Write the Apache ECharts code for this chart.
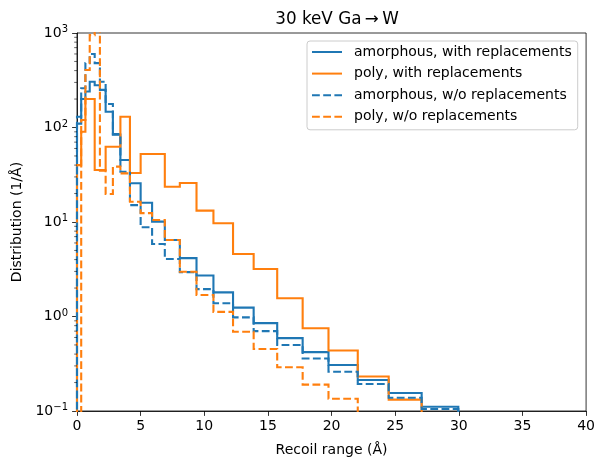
<!DOCTYPE html>
<html><head><meta charset="utf-8">
<script src="https://cdn.jsdelivr.net/npm/echarts@6/dist/echarts.min.js"></script>
<style>html,body{margin:0;padding:0;background:#fff}#c{width:598px;height:462px}</style>
</head><body><div id="c"></div>
<script>
// Bin edges (Å)
const binEdges = [0, 0.33, 0.66, 1.0, 1.39, 1.8, 2.25, 2.82, 3.41, 4.16, 5.0, 5.9, 6.9, 8.08, 9.39, 10.72, 12.26, 13.88, 15.73, 17.73, 19.76, 22.06, 24.49, 27.08, 29.96];
// Distribution values per bin (1/Å); 0 = empty bin
const amorphousWith = [110, 200, 240, 305, 280, 250, 147, 84, 45.3, 25.7, 16.0, 10.1, 6.45, 4.15, 2.72, 1.80, 1.24, 0.85, 0.59, 0.42, 0.307, 0.213, 0.155, 0.111];
const polyWith = [40, 90, 200, 200, 35.5, 35.5, 62.6, 62.6, 130, 33, 52.4, 52.4, 23.6, 25.9, 13.2, 9.69, 4.59, 3.18, 1.56, 0.75, 0.437, 0.232, 0.132, 0];
const amorphousWithout = [130, 260, 480, 600, 480, 305, 177, 85, 34, 15.1, 8.8, 5.85, 4.06, 2.95, 1.95, 1.38, 0.98, 0.70, 0.50, 0.36, 0.26, 0.193, 0.138, 0.105];
const polyWithout = [0, 120, 406, 950, 2000, 35, 19.8, 38.5, 32.7, 16.4, 12.4, 10.5, 6.45, 2.98, 1.69, 1.12, 0.69, 0.453, 0.29, 0.19, 0.135, 0, 0, 0];

const seriesNames = ['amorphous, with replacements', 'poly, with replacements', 'amorphous, w/o replacements', 'poly, w/o replacements'];
// minor tick positions on the log y axis
const yMinorTicks = [0.2, 0.3, 0.4, 0.5, 0.6, 0.7, 0.8, 0.9, 2, 3, 4, 5, 6, 7, 8, 9, 20, 30, 40, 50, 60, 70, 80, 90, 200, 300, 400, 500, 600, 700, 800, 900];

const FLOOR = 1e-3;
function stepPoints(vals) {
  const n = vals.length;
  const v = vals.map(x => x > 0 ? x : FLOOR);
  const pts = [[binEdges[0], FLOOR]];
  for (let i = 0; i < n; i++) pts.push([binEdges[i], v[i]]);
  pts.push([binEdges[n], v[n - 1]]);
  pts.push([binEdges[n], FLOOR]);
  return pts;
}

const BLUE = '#1f77b4', ORANGE = '#ff7f0e';
const FONT = 'DejaVu Sans';
const DASH = [7.8, 3.4];
const FS = 14;

function mk(name, vals, color, dashed) {
  return {
    name: name, type: 'line', step: 'end', data: stepPoints(vals),
    symbol: 'none', showSymbol: false, clip: true, animation: false,
    lineStyle: { color: color, width: 2.1, type: dashed ? DASH : 'solid', cap: 'butt', join: 'miter' },
    itemStyle: { color: color }
  };
}

const chart = echarts.init(document.getElementById('c'), null, { renderer: 'canvas' });
chart.setOption({
  animation: false,
  backgroundColor: '#fff',
  textStyle: { fontFamily: FONT },
  title: {
    text: '30 keV Ga\u2009\u2192\u2009W', left: 332, top: 6, textAlign: 'center',
    textStyle: { fontFamily: FONT, fontSize: 16.8, fontWeight: 'normal', color: '#000' }
  },
  legend: {
    data: seriesNames, orient: 'vertical', left: 307, top: 41,
    itemWidth: 30, itemHeight: 14, itemGap: 7.6,
    padding: [4, 6, 6, 4],
    itemStyle: { opacity: 0 },
    borderColor: '#cccccc', borderWidth: 1, borderRadius: 3, backgroundColor: 'rgba(255,255,255,0.8)',
    textStyle: { fontFamily: FONT, fontSize: FS, color: '#000', padding: [0, 0, 0, 7], lineHeight: 14 }
  },
  grid: { left: 77, top: 33, width: 510, height: 378, show: true, borderColor: '#000', borderWidth: 0.8, backgroundColor: 'transparent' },
  xAxis: {
    type: 'value', min: 0, max: 40, interval: 5,
    name: 'Recoil range (Å)', nameLocation: 'middle', nameGap: 32,
    nameTextStyle: { fontFamily: FONT, fontSize: FS, color: '#000' },
    axisLine: { lineStyle: { color: '#000', width: 0.8 } },
    axisTick: { inside: false, length: 4.9, lineStyle: { color: '#000', width: 0.8 } },
    axisLabel: { margin: 8, fontFamily: FONT, fontSize: FS, color: '#000' },
    splitLine: { show: false }
  },
  yAxis: {
    type: 'log', logBase: 10, min: 0.1, max: 1000,
    name: 'Distribution (1/Å)', nameLocation: 'middle', nameGap: 50,
    nameTextStyle: { fontFamily: FONT, fontSize: FS, color: '#000' },
    axisLine: { show: true, lineStyle: { color: '#000', width: 0.8 } },
    axisTick: { show: true, inside: false, length: 4.9, lineStyle: { color: '#000', width: 0.8 } },
    axisLabel: {
      margin: 9, fontFamily: FONT, fontSize: FS, color: '#000',
      formatter: function (v) {
        const e = Math.round(Math.log10(v));
        return '10{sup|' + (e < 0 ? '\u2212' + (-e) : e) + '}';
      },
      rich: { sup: { fontSize: 10, fontFamily: FONT, color: '#000', verticalAlign: 'top', padding: [0, 0, 7, 0] } }
    },
    splitLine: { show: false }
  },
  series: [
    mk(seriesNames[0], amorphousWith, BLUE, false),
    mk(seriesNames[1], polyWith, ORANGE, false),
    mk(seriesNames[2], amorphousWithout, BLUE, true),
    mk(seriesNames[3], polyWithout, ORANGE, true),
    {
      name: 'minorTicks', type: 'custom', silent: true, clip: false, z: 5,
      data: yMinorTicks.map(v => [0, v]),
      renderItem: function (params, api) {
        const p = api.coord([api.value(0), api.value(1)]);
        return { type: 'line', shape: { x1: p[0] - 2.8, y1: p[1], x2: p[0], y2: p[1] }, style: { stroke: '#000', lineWidth: 0.6 } };
      }
    }
  ]
});
</script></body></html>
